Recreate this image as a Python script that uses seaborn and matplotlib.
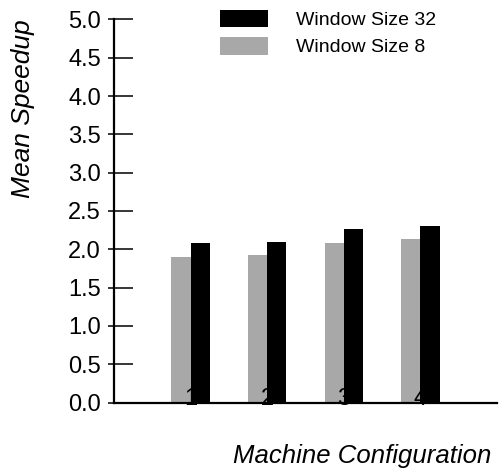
import matplotlib
matplotlib.use("Agg")
import matplotlib.pyplot as plt
import seaborn as sns
import pandas as pd
from matplotlib.patches import Patch
from matplotlib.ticker import MultipleLocator

configs = ["1", "2", "3", "4"]
window8 = [1.90, 1.93, 2.08, 2.13]
window32 = [2.08, 2.10, 2.27, 2.30]
series_names = ["Window Size 8", "Window Size 32"]
colors = {"Window Size 8": "#a8a8a8", "Window Size 32": "#000000"}

rows = []
for c, a, b in zip(configs, window8, window32):
    rows.append({"config": c, "speedup": a, "window": series_names[0]})
    rows.append({"config": c, "speedup": b, "window": series_names[1]})
df = pd.DataFrame(rows)

sns.set_theme(style="white")
plt.rcParams["font.family"] = ["Liberation Sans", "DejaVu Sans"]
plt.rcParams["text.color"] = "black"
plt.rcParams["axes.labelcolor"] = "black"
plt.rcParams["xtick.color"] = "black"
plt.rcParams["ytick.color"] = "black"

fig = plt.figure(figsize=(5, 4.75), dpi=100)
ax = fig.add_axes([114 / 500, 1 - 402.5 / 475, 383 / 500, 383 / 475])

sns.barplot(data=df, x="config", y="speedup", hue="window", hue_order=series_names,
            palette=colors, width=0.5, saturation=1, errorbar=None, ax=ax,
            linewidth=0, legend=False)

# gray bars below the category labels, black bars above them
for cont, z in zip(ax.containers, [0.3, 1.0]):
    for p in cont:
        p.set_zorder(z)

ax.set_xlim(-1, 4)
ax.set_ylim(0, 5)
ax.set_axisbelow(True)
for s in ["top", "right"]:
    ax.spines[s].set_visible(False)
for s in ["left", "bottom"]:
    ax.spines[s].set_color("black")
    ax.spines[s].set_linewidth(1.6)

ax.yaxis.set_major_locator(MultipleLocator(0.5))
ax.yaxis.set_minor_locator(MultipleLocator(0.5))
ax.yaxis.remove_overlapping_locs = False
ax.set_yticks([i * 0.5 for i in range(11)])
ax.set_yticklabels([f"{i * 0.5:.1f}" for i in range(11)])
ax.tick_params(axis="y", which="major", direction="in", length=13.7, width=1.1,
               color="black", labelcolor="black", labelsize=17, pad=9.4, left=True)
ax.tick_params(axis="y", which="minor", direction="out", length=4.3, width=1.1,
               color="black", left=True)
ax.tick_params(axis="x", length=0, labelsize=17, pad=-10.5, labelcolor="black")

ax.set_xlabel("Machine Configuration", fontsize=18.5, fontstyle="italic", va="center",
              color="black")
ax.xaxis.set_label_coords(0.649, -0.1397)
ax.set_ylabel("Mean Speedup", fontsize=19, fontstyle="italic", va="center", color="black")
ax.yaxis.set_label_coords(-0.2376, 0.766)

handles = [Patch(facecolor=colors[n], edgecolor="none", label=n) for n in reversed(series_names)]
ax.legend(handles=handles, loc="upper left", bbox_to_anchor=(220 / 500, 1 - 10 / 475),
          bbox_transform=fig.transFigure, frameon=False, fontsize=14, borderpad=0,
          borderaxespad=0, handlelength=2.45, handleheight=1.0, handletextpad=1.45,
          labelspacing=0.4, labelcolor="black")

fig.savefig("out.png", dpi=100)
